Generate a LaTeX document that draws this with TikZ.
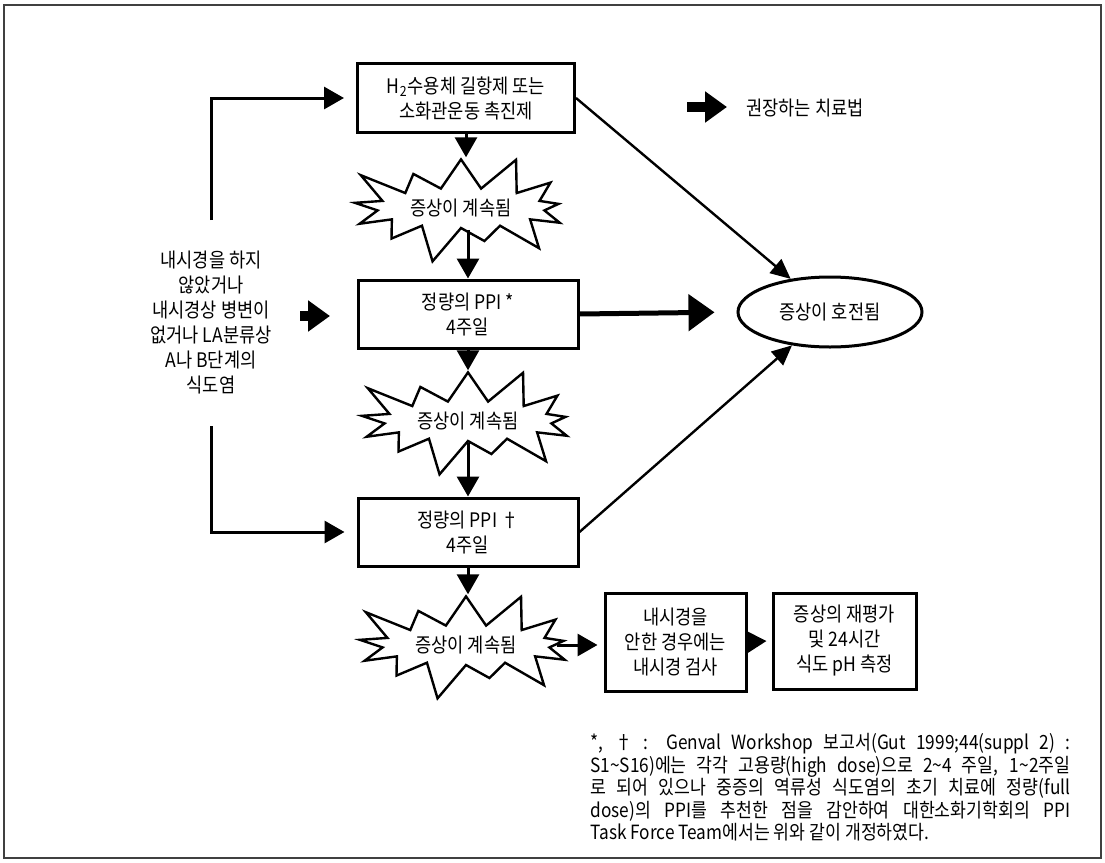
\documentclass[tikz,border=0pt]{standalone}
\usepackage{fontspec}
\setmainfont[FakeStretch=0.88]{Noto Sans CJK KR}
\usepackage{tikz}
\usetikzlibrary{shapes.symbols, shapes.geometric, positioning, arrows.meta}

\begin{document}
\begin{tikzpicture}[x=0.5pt, y=-0.5pt, font=\fontsize{10}{12.5}\selectfont,
        box/.style={draw, line width=1.5pt, align=center, inner sep=0pt},
        burst/.style={starburst, draw, line width=1.2pt, starburst points=13, starburst point height=20pt, minimum width=124pt, minimum height=60pt, inner sep=0pt},
        flow/.style={line width=1.5pt, -{Triangle[width=11pt, length=10pt]}},
        slant/.style={line width=1.2pt, -{Triangle[width=9pt, length=10pt]}},
        heavy/.style={line width=2.5pt, -{Triangle[width=18pt, length=13pt]}},
        stub/.style={line width=5pt, -{Triangle[width=15pt, length=11pt]}}]
        \useasboundingbox (0,0) rectangle (1105,863);
        \draw[line width=1pt, black!75] (4,5) rectangle (1101,858);

        \node[box, minimum width=108.5pt, minimum height=34.5pt] (h2) at (466,98) {H\textsubscript{2}수용체 길항제 또는\\소화관운동 촉진제};
        \node[burst] (s1) at (461,208) {증상이 계속됨};
        \node[box, minimum width=110pt, minimum height=34pt] (ppi1) at (468,314) {정량의 PPI *\\4주일};
        \node[burst] (s2) at (468,421) {증상이 계속됨};
        \node[box, minimum width=110pt, minimum height=34pt] (ppi2) at (468,532) {정량의 PPI †\\4주일};
        \node[burst] (s3) at (466,645) {증상이 계속됨};
        \node[box, minimum width=70.5pt, minimum height=49pt] (endo) at (675.5,642) {내시경을\\안한 경우에는\\내시경 검사};
        \node[box, minimum width=71.5pt, minimum height=48pt] (reeval) at (844.5,641) {증상의 재평가\\및 24시간\\식도 pH 측정};
        \node[ellipse, draw, line width=1.5pt, minimum width=92pt, minimum height=35pt, inner sep=0pt] (better) at (830,312) {증상이 호전됨};
        \node[align=center] (cond) at (211,323) {내시경을 하지\\않았거나\\내시경상 병변이\\없거나 LA분류상\\A나 B단계의\\식도염};
        \node[anchor=west, inner sep=0pt] (legend) at (746,108) {권장하는 치료법};
        \node[anchor=north west, text width=240pt, align=justify, inner sep=0pt, font=\fontsize{9.8}{11.25}\selectfont] (note) at (590,733)
            {*, † : Genval Workshop 보고서(Gut 1999;44(suppl 2) :\linebreak
            S1\textasciitilde S16)에는 각각 고용량(high dose)으로 2\textasciitilde 4 주일, 1\textasciitilde 2주일\linebreak
            로 되어 있으나 중증의 역류성 식도염의 초기 치료에 정량(full\linebreak
            dose)의 PPI를 추천한 점을 감안하여 대한소화기학회의 PPI\linebreak
            Task Force Team에서는 위와 같이 개정하였다.};

        \coordinate (legA) at (687,107);
        \coordinate (legB) at (727,107);
        \coordinate (condA) at (300,316);
        \coordinate (condB) at (330,316);
        \coordinate (up) at (211,220);
        \coordinate (down) at (211,426);

        % main column
        \path[flow]
        (h2.south) edge (h2.south |- s1.north)
        (ppi1.north |- s1.south) edge (ppi1.north)
        (ppi1.south) edge (ppi1.south |- s2.north)
        (ppi2.north |- s2.south) edge (ppi2.north)
        (ppi2.south) edge (ppi2.south |- s3.north)
        (s3.east) edge ([xshift=-3pt]s3.east -| endo.west)
        (endo.east) edge ([xshift=-2.5pt]reeval.west)
        ;
        \path[slant]
        (h2.east) edge (better)
        (ppi2.east) edge (better)
        ;
        \draw[heavy, shorten >=11pt] (ppi1.east) -- (better.west);
        \draw[stub] (legA) -- (legB);
        \draw[stub] (condA) -- (condB);
        \draw[flow] (up) |- ([xshift=-6pt]h2.west);
        \draw[flow] (down) |- ([xshift=-6pt]ppi2.west);
    \end{tikzpicture}
\end{document}
